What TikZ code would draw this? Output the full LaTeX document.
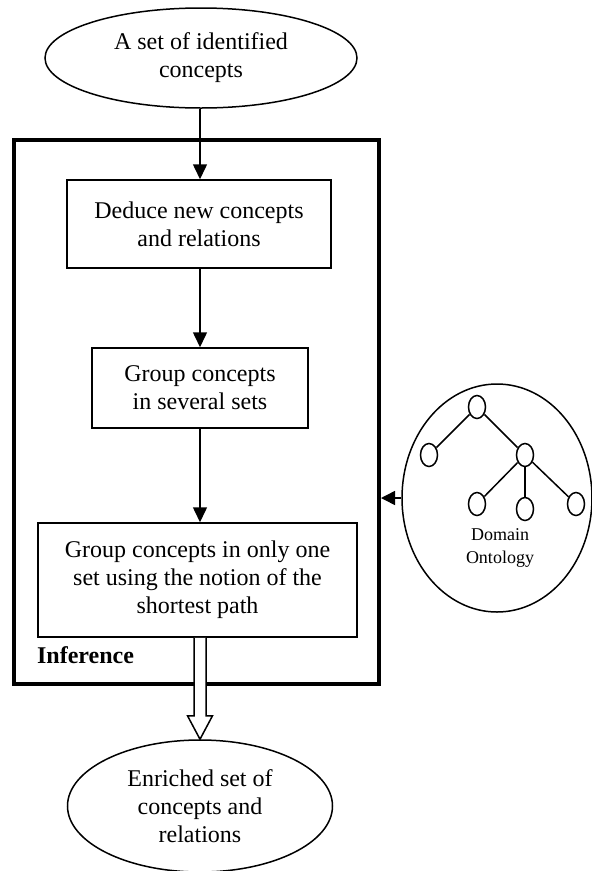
\documentclass[tikz,border=0pt]{standalone}
\usepackage{fontspec}
\setmainfont{Liberation Serif}
\usetikzlibrary{shapes.geometric,arrows.meta,calc}
\begin{document}
\begin{tikzpicture}[x=1pt,y=-1pt,
  line width=1.5pt,
  txt/.style={font=\fontsize{24}{28}\selectfont, align=center},
  oval/.style={draw, ellipse, inner sep=0pt, txt},
  stepbox/.style={draw, rectangle, inner sep=0pt, txt},
  flow/.style={-{Triangle[length=15pt,width=14pt]}},
  tnode/.style={draw, ellipse, minimum width=17pt, minimum height=23pt, inner sep=0pt},
  tedge/.style={line width=1.5pt}
]
\useasboundingbox (0,0) rectangle (592,871);

% input and output ovals
\node[oval, minimum width=312pt, minimum height=100pt] (top) at (201,58)
  {A set of identified\\concepts};
\node[oval, minimum width=265pt, minimum height=132pt] (out) at (200,806)
  {Enriched set of\\concepts and\\relations};

% inference frame
\node[draw, line width=4pt, minimum width=365pt, minimum height=544pt, inner sep=0pt] (frame) at (196.5,412) {};
\node[font=\fontsize{24}{28}\selectfont\bfseries, anchor=west] (inflabel) at (33,655) {Inference};

% processing steps
\node[stepbox, minimum width=264pt, minimum height=88pt] (b1) at (199,224)
  {Deduce new concepts\\and relations};
\node[stepbox, minimum width=216pt, minimum height=80pt] (b2) at (200,388)
  {Group concepts\\in several sets};
\node[stepbox, minimum width=319pt, minimum height=114pt] (b3) at (197.5,580)
  {Group concepts in only one\\set using the notion of the\\shortest path};

\draw[flow] (top.south -| b2.north) -- (b1.north -| b2.north);
\draw[flow] (b1.south -| b2.north) -- (b2.north);
\draw[flow] (b2.south) -- (b3.north -| b2.south);

% hollow output arrow
\coordinate (hs) at (b3.south -| out.north);
\draw[fill=white, line join=miter]
  ($(hs)+(-6,0)$) -- ($(hs)+(-6,78)$) -- ($(hs)+(-12.5,78)$) -- (out.north)
  -- ($(hs)+(12.5,78)$) -- ($(hs)+(6,78)$) -- ($(hs)+(6,0)$);

% domain ontology
\node[draw, ellipse, minimum width=190pt, minimum height=228pt, inner sep=0pt] (onto) at (497,498) {};
\node[tnode] (r)  at (477,407) {};
\node[tnode] (l)  at (429,455) {};
\node[tnode] (m)  at (525,455) {};
\node[tnode] (g1) at (477,504) {};
\node[tnode] (g2) at (525,509) {};
\node[tnode] (g3) at (576,504) {};
\draw[tedge] (r) -- (l);
\draw[tedge] (r) -- (m);
\draw[tedge] (m) -- (g1);
\draw[tedge] (m) -- (g2);
\draw[tedge] (m) -- (g3);
\node[font=\fontsize{18}{23}\selectfont, align=center] (ontolabel) at (500,548) {Domain\\Ontology};

\draw[-{Triangle[length=14pt,width=14pt]}] (onto.west) -- (onto.west -| frame.east);
\end{tikzpicture}
\end{document}
